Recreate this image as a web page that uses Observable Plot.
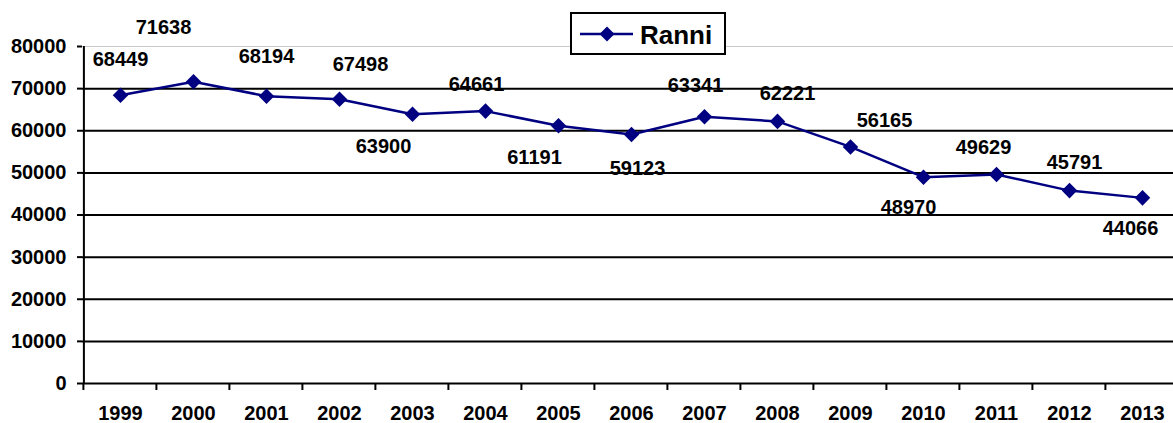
<!DOCTYPE html>
<html>
<head>
<meta charset="utf-8">
<script src="https://cdn.jsdelivr.net/npm/d3@7"></script>
<script src="https://cdn.jsdelivr.net/npm/@observablehq/plot@0.6"></script>
<style>
  html, body { margin: 0; padding: 0; background: #fff; overflow: hidden; }
  #chart svg { display: block; }
</style>
</head>
<body>
<div id="chart"></div>
<script>
// ---- data ----
const years = ["1999","2000","2001","2002","2003","2004","2005","2006","2007","2008","2009","2010","2011","2012","2013"];
const values = [68449, 71638, 68194, 67498, 63900, 64661, 61191, 59123, 63341, 62221, 56165, 48970, 49629, 45791, 44066];
const yTicks = [0, 10000, 20000, 30000, 40000, 50000, 60000, 70000, 80000];
const seriesName = "Ranni";

// ---- layout (label nudges in px, separate from data) ----
const labelNudge = [[0,-36],[-30,-54],[0,-40],[21,-35],[-29,32],[-9,-27],[-24,31.5],[6,34],[-9,-31],[10,-28],[34,-26],[-15,30],[-13,-27],[5,-28],[-12,31]];

const data = years.map((y, i) => ({year: y, value: values[i]}));
const navy = "#000080";
const font = "'Liberation Sans', Arial, Helvetica, sans-serif";
const xRange = [82, 1180];
const step = (xRange[1] - xRange[0]) / years.length;

const labelMarks = data.map((d, i) => Plot.text([d], {
  x: "year", y: "value", text: d => String(d.value),
  dx: labelNudge[i][0], dy: labelNudge[i][1],
  fontSize: 20, fontWeight: "bold", fill: "black"
}));

const chart = Plot.plot({
  width: 1173, height: 423,
  marginTop: 46, marginBottom: 40, marginLeft: 82, marginRight: 0,
  style: {fontFamily: font, fontSize: "20px", fontWeight: "bold", background: "#fff", color: "black"},
  x: {type: "point", domain: years, range: xRange, padding: 0.5},
  y: {domain: [0, 80000]},
  marks: [
    Plot.ruleY([80000], {stroke: "#c8c8c8", strokeWidth: 1}),
    Plot.ruleY(yTicks.filter(v => v > 0 && v < 80000), {stroke: "black", strokeWidth: 2}),
    Plot.ruleY([0], {stroke: "black", strokeWidth: 2}),
    Plot.ruleX([years[0]], {dx: -step / 2, y1: 0, y2: 80000, stroke: "black", strokeWidth: 2}),
    Plot.axisY({ticks: yTicks, tickSize: 5, tickPadding: 11, tickFormat: d3.format("d"), label: null, fontSize: 20, fontWeight: "bold", strokeWidth: 2}),
    Plot.axisX({tickSize: 0, tickPadding: 22, label: null, fontSize: 20, fontWeight: "bold"}),
    Plot.line(data, {x: "year", y: "value", stroke: navy, strokeWidth: 2.5}),
    Plot.dot(data, {x: "year", y: "value", symbol: "diamond2", r: 7, fill: navy, stroke: "none"}),
    ...labelMarks
  ]
});

// x-axis tick marks at category boundaries
const xs = chart.scale("x");
const y0 = chart.scale("y").apply(0);
const svg = d3.select(chart);
const tg = svg.append("g").attr("stroke", "black").attr("stroke-width", 2);
years.forEach(yr => {
  const px = xs.apply(yr) - step / 2;
  tg.append("line").attr("x1", px).attr("x2", px).attr("y1", y0).attr("y2", y0 + 7);
});

// legend box
const lg = svg.append("g").attr("text-anchor", "start");
lg.append("rect").attr("x", 571).attr("y", 13).attr("width", 154).attr("height", 41)
  .attr("fill", "white").attr("stroke", "black").attr("stroke-width", 2);
lg.append("line").attr("x1", 580).attr("x2", 633).attr("y1", 34).attr("y2", 34)
  .attr("stroke", navy).attr("stroke-width", 2.5);
lg.append("path").attr("d", "M607,26.5L614.5,34L607,41.5L599.5,34Z").attr("fill", navy);
lg.append("text").attr("x", 640).attr("y", 44).attr("text-anchor", "start")
  .attr("font-size", 26).attr("font-weight", "bold")
  .attr("font-family", font).attr("fill", "black").text(seriesName);

document.getElementById("chart").appendChild(chart);
</script>
</body>
</html>
